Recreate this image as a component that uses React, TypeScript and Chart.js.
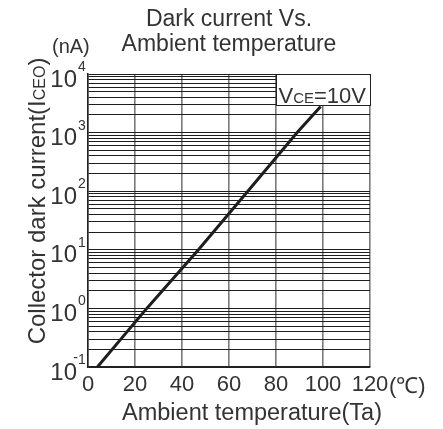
import React, { useEffect, useRef } from "react";
import { Chart, registerables } from "chart.js";

Chart.register(...registerables);

// ---- data ----
const temperature = [4, 25, 47, 68, 89, 99];
const darkCurrent = [0.1, 1, 10, 100, 1000, 2800];

const xTickValues = [0, 20, 40, 60, 80, 100, 120];
const yDecadeExponents = [-1, 0, 1, 2, 3, 4];
const yMinorMultipliers = [1, 2, 3, 4, 5, 6, 7, 8, 9];

const titleLines = ["Dark current Vs.", "Ambient temperature"];
const xAxisTitle = "Ambient temperature(Ta)";
const yAxisTitleMain = "Collector dark current(I";
const yAxisTitleSub = "CEO";
const yAxisTitleEnd = ")";
const yUnit = "(nA)";
const xUnit = "(℃)";
const annotationBoxX = [80, 120];
const annotationBoxY = [3000, 10000];

const FONT = "'Liberation Sans', Arial, sans-serif";
const TEXT = "#333333";

const yGridValues: number[] = [];
for (let i = 0; i < yDecadeExponents.length - 1; i++) {
  for (const m of yMinorMultipliers) {
    yGridValues.push(Number((m * Math.pow(10, yDecadeExponents[i])).toPrecision(3)));
  }
}
yGridValues.push(Math.pow(10, yDecadeExponents[yDecadeExponents.length - 1]));

export default function App() {
  const ref = useRef<HTMLCanvasElement>(null);

  useEffect(() => {
    const canvas = ref.current!;

    const textPlugin = {
      id: "textPlugin",
      afterDatasetsDraw(chart: any) {
        const ctx = chart.ctx as CanvasRenderingContext2D;
        const xs = chart.scales.x;
        const ys = chart.scales.y;
        ctx.save();
        const bx0 = Math.round(xs.getPixelForValue(annotationBoxX[0])) + 0.5;
        const bx1 = Math.round(xs.getPixelForValue(annotationBoxX[1])) + 0.5;
        const by0 = Math.round(ys.getPixelForValue(annotationBoxY[1])) + 0.5;
        const by1 = Math.round(ys.getPixelForValue(annotationBoxY[0])) + 0.5;
        ctx.fillStyle = "#ffffff";
        ctx.fillRect(bx0, by0, bx1 - bx0, by1 - by0);
        ctx.strokeStyle = "#222222";
        ctx.lineWidth = 1;
        ctx.strokeRect(bx0, by0, bx1 - bx0, by1 - by0);
        ctx.fillStyle = TEXT;
        ctx.textBaseline = "alphabetic";
        ctx.textAlign = "left";
        let tx = bx0 + 2;
        const tb = by1 - 3;
        ctx.font = `22px ${FONT}`;
        ctx.fillText("V", tx, tb);
        tx += ctx.measureText("V").width;
        ctx.font = `15px ${FONT}`;
        ctx.fillText("CE", tx, tb);
        tx += ctx.measureText("CE").width;
        ctx.font = `22px ${FONT}`;
        ctx.fillText("=10V", tx, tb);
        ctx.restore();
      },
      afterDraw(chart: any) {
        const ctx = chart.ctx as CanvasRenderingContext2D;
        const xs = chart.scales.x;
        const ys = chart.scales.y;
        const area = chart.chartArea;
        ctx.save();
        ctx.fillStyle = TEXT;

        ctx.textAlign = "center";
        ctx.textBaseline = "alphabetic";
        ctx.font = `23px ${FONT}`;
        const cx = (area.left + area.right) / 2;
        ctx.fillText(titleLines[0], cx, 26);
        ctx.fillText(titleLines[1], cx, 51);

        ctx.textAlign = "left";
        ctx.font = `20px ${FONT}`;
        ctx.fillText(yUnit, 52, 53);

        for (const e of yDecadeExponents) {
          const py = ys.getPixelForValue(Math.pow(10, e)) + 6;
          ctx.font = `24px ${FONT}`;
          ctx.textAlign = "right";
          ctx.textBaseline = "middle";
          ctx.fillText("10", 77, py);
          ctx.font = `14px ${FONT}`;
          ctx.textAlign = "left";
          ctx.textBaseline = "alphabetic";
          const ey = py - 9;
          ctx.fillText(String(Math.abs(e)), 78, ey);
          if (e < 0) {
            ctx.textAlign = "right";
            ctx.fillText("-", 78, ey - 2);
          }
        }

        ctx.textAlign = "left";
        ctx.textBaseline = "alphabetic";
        ctx.font = `22px ${FONT}`;
        ctx.fillText(xUnit, xs.getPixelForValue(120) + 19, 393);

        ctx.textAlign = "center";
        ctx.font = `23.5px ${FONT}`;
        ctx.fillText(xAxisTitle, 252, 420);

        ctx.save();
        ctx.translate(45, 201);
        ctx.rotate(-Math.PI / 2);
        ctx.textAlign = "left";
        ctx.textBaseline = "alphabetic";
        ctx.font = `24px ${FONT}`;
        const w1 = ctx.measureText(yAxisTitleMain).width;
        ctx.font = `16px ${FONT}`;
        const w2 = ctx.measureText(yAxisTitleSub).width;
        ctx.font = `24px ${FONT}`;
        const w3 = ctx.measureText(yAxisTitleEnd).width;
        let sx = -(w1 + w2 + w3) / 2;
        ctx.fillText(yAxisTitleMain, sx, 0);
        sx += w1;
        ctx.font = `16px ${FONT}`;
        ctx.fillText(yAxisTitleSub, sx, 0);
        sx += w2;
        ctx.font = `24px ${FONT}`;
        ctx.fillText(yAxisTitleEnd, sx, 0);
        ctx.restore();

        ctx.restore();
      },
    };

    const chart = new Chart(canvas, {
      type: "line",
      data: {
        datasets: [
          {
            data: temperature.map((t, i) => ({ x: t, y: darkCurrent[i] })),
            borderColor: "#1e1e1e",
            borderWidth: 3,
            pointRadius: 0,
            tension: 0,
          },
        ],
      },
      options: {
        responsive: false,
        animation: false,
        layout: { padding: { left: 88, top: 74, right: 73, bottom: 0 } },
        plugins: { legend: { display: false }, tooltip: { enabled: false }, title: { display: false } },
        scales: {
          x: {
            type: "linear",
            min: 0,
            max: 120,
            afterBuildTicks: (s: any) => {
              s.ticks = xTickValues.map((v) => ({ value: v }));
            },
            afterFit: (s: any) => {
              s.height = 62;
            },
            ticks: {
              color: TEXT,
              font: { family: FONT, size: 22 },
              padding: 5,
              maxRotation: 0,
              autoSkip: false,
            },
            grid: { color: "#7a7a7a", lineWidth: 1.6, drawTicks: false },
            border: { color: "#222222", width: 1.5 },
          },
          y: {
            type: "logarithmic",
            min: 0.1,
            max: 10000,
            afterBuildTicks: (s: any) => {
              s.ticks = yGridValues.map((v) => ({ value: v }));
            },
            afterFit: (s: any) => {
              s.width = 0;
            },
            ticks: { display: false, autoSkip: false },
            grid: { color: "#1e1e1e", lineWidth: 1, drawTicks: false },
            border: { color: "#222222", width: 1.5 },
          },
        },
      },
      plugins: [textPlugin],
    } as any);

    return () => chart.destroy();
  }, []);

  return (
    <div style={{ position: "absolute", left: 0, top: 0, width: 443, height: 429, background: "#fff" }}>
      <canvas ref={ref} width={443} height={429} style={{ display: "block", width: 443, height: 429 }} />
    </div>
  );
}
